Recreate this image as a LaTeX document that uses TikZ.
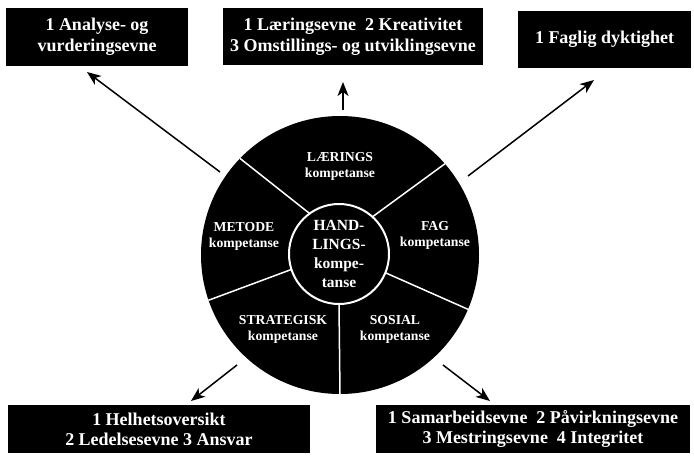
\documentclass[tikz,border=0pt]{standalone}
\usepackage{fontspec}
\setmainfont{Liberation Serif}
\usetikzlibrary{arrows.meta}
\tikzset{
  box/.style={fill=black, text=white, inner sep=0pt, align=center,
    font=\fontsize{18}{21}\selectfont\bfseries},
  lowbox/.style={box, font=\fontsize{18}{20}\selectfont\bfseries},
  sector/.style={text=white, align=center, inner sep=0pt,
    font=\fontsize{13.7}{16}\selectfont\bfseries},
  divider/.style={draw=white, line width=1.5pt},
  pointer/.style={draw=black, line width=1.5pt,
    -{Stealth[length=14pt, width=11pt, inset=4pt]}}
}
\begin{document}
\begin{tikzpicture}[x=1pt, y=-1pt]
\useasboundingbox (0,0) rectangle (694,458);

% boxes
\node[box, minimum width=182pt, minimum height=58pt] (b1) at (97,37)
  {1 Analyse- og\\vurderingsevne};
\node[box, minimum width=260pt, minimum height=57pt] (b2) at (353,36.5)
  {1 Læringsevne\ \ 2 Kreativitet\\3 Omstillings- og utviklingsevne};
\node[box, minimum width=173pt, minimum height=57pt] (b3) at (604.5,39.5)
  {1 Faglig dyktighet};
\node[lowbox, minimum width=302pt, minimum height=48pt] (b4) at (159,429)
  {1 Helhetsoversikt\\2 Ledelsesevne 3 Ansvar};
\node[lowbox, minimum width=314pt, minimum height=48pt] (b5) at (533,429)
  {1 Samarbeidsevne\ \ 2 Påvirkningsevne\\3 Mestringsevne\ \ 4 Integritet};

% wheel
\node[circle, fill=black, minimum size=278pt, inner sep=0pt] (outer) at (340,255) {};
\node[circle, minimum size=100pt, inner sep=0pt] (innerref) at (339,254) {};

\draw[divider] (innerref.126) -- (outer.136.5);
\draw[divider] (innerref.48) -- (outer.41.6);
\draw[divider] (innerref.-22.3) -- (outer.-23.5);
\draw[divider] (innerref.-90) -- (outer.-90);
\draw[divider] (innerref.198) -- (outer.199.5);

\node[circle, fill=black, draw=white, line width=2pt, minimum size=100pt,
  inner sep=0pt, text=white, align=center,
  font=\fontsize{15.5}{19}\selectfont\bfseries] (hand) at (339,254)
  {HAND-\\LINGS-\\kompe-\\tanse};

\node[sector] (laer) at (340,166) {LÆRINGS\\kompetanse};
\node[sector] (metode) at (244,236) {METODE\\kompetanse};
\node[sector] (fag) at (435,235) {FAG\\kompetanse};
\node[sector] (strat) at (283,329) {STRATEGISK\\kompetanse};
\node[sector] (sosial) at (395,329) {SOSIAL\\kompetanse};

% arrows
\coordinate (a1s) at (220,172); \coordinate (a1e) at (87,72);
\coordinate (a2s) at (343,110); \coordinate (a2e) at (343,82);
\coordinate (a3s) at (468,176); \coordinate (a3e) at (594,80);
\coordinate (a4s) at (237,365); \coordinate (a4e) at (191,401);
\coordinate (a5s) at (443,365); \coordinate (a5e) at (490,401);
\draw[pointer] (a1s) -- (a1e);
\draw[pointer] (a2s) -- (a2e);
\draw[pointer] (a3s) -- (a3e);
\draw[pointer] (a4s) -- (a4e);
\draw[pointer] (a5s) -- (a5e);
\end{tikzpicture}
\end{document}
